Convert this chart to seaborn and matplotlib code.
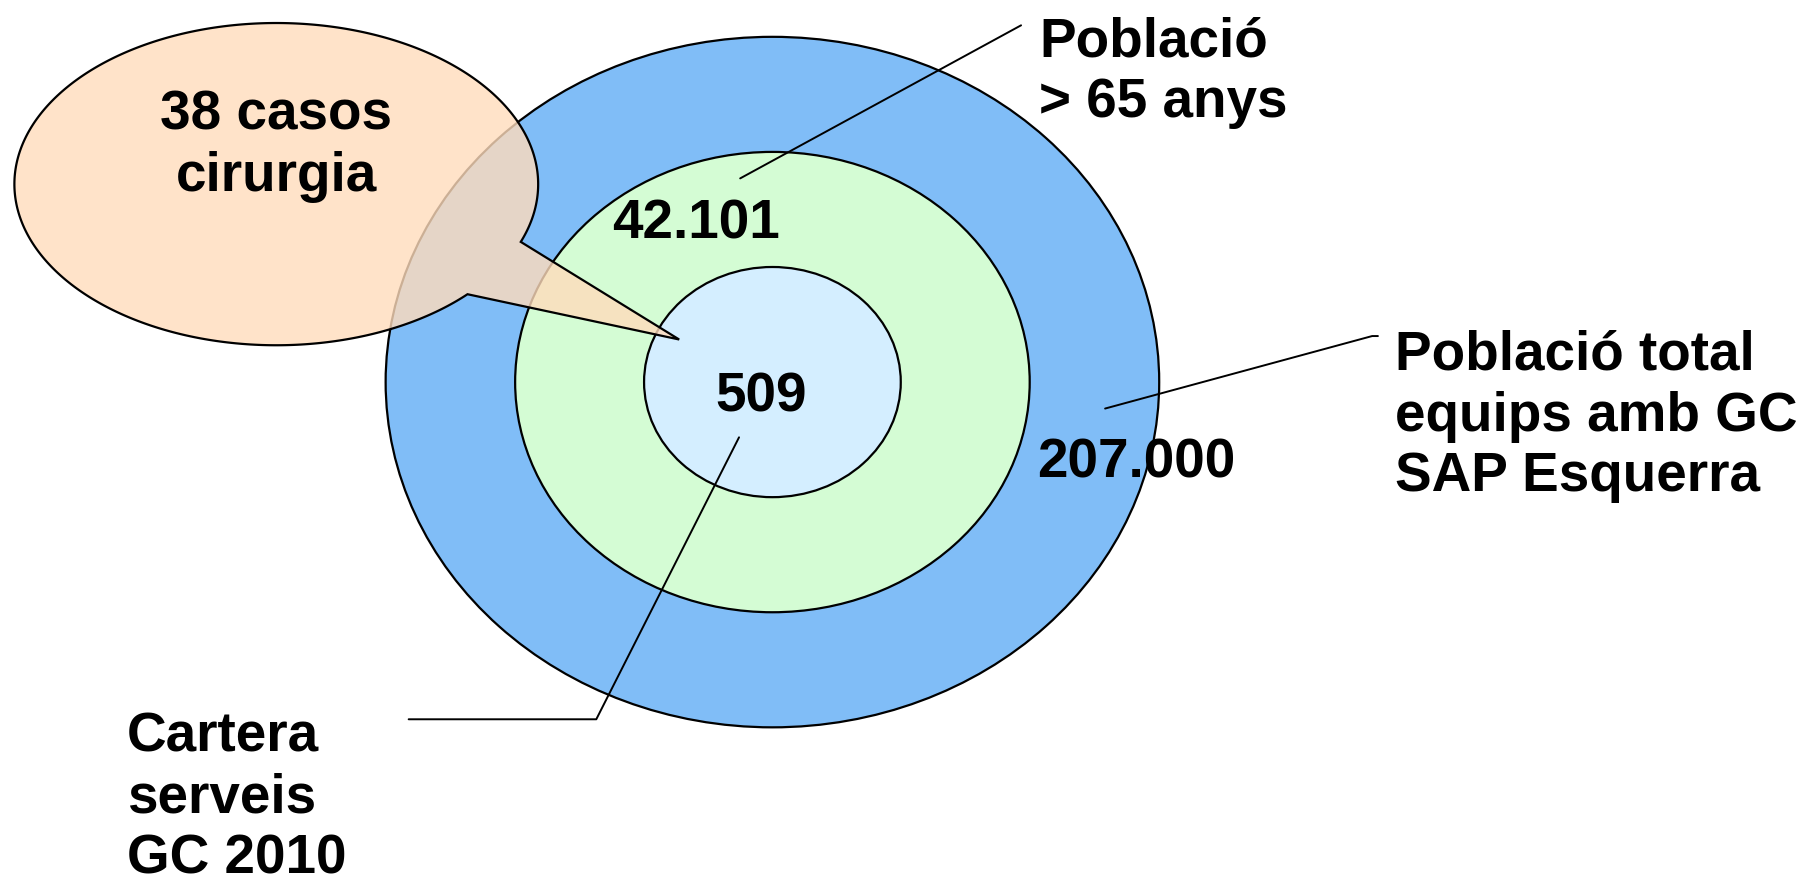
import numpy as np
import matplotlib.pyplot as plt
from matplotlib.patches import Ellipse, Polygon
import seaborn as sns

# dades: cercles concèntrics (de fora cap a dins)
ring_values = ["207.000", "42.101", "509"]
ring_names = ["Població total\nequips amb GC\nSAP Esquerra",
              "Població\n> 65 anys",
              "Cartera\nserveis\nGC 2010"]
ring_colors = ["#80bdf7", "#d4fcd4", "#d4eeff"]
bubble_text = "38 casos\ncirurgia"

# layout (coordenades en píxels de la imatge, y cap avall)
W, H = 1568, 769
center = (671, 332)
ring_w = [672, 447, 223]
ring_h = [600, 400, 200]
value_pos = [(987, 403), (605, 195), (661, 345)]
name_pos = [(1212, 362), (903, 63), (110, 694)]
leaders = [
    [(960, 355), (1192, 292), (1197, 292)],
    [(643, 155), (887, 22)],
    [(642, 380), (518, 625), (355, 625)],
]
bubble_c = (240, 160)
bubble_w, bubble_h = 455, 280
tail_tip = (590, 295)
tail_angles = (43.1, 21.0)

sns.set_theme(style="white")
plt.rcParams["font.family"] = ["Liberation Sans", "DejaVu Sans"]
plt.rcParams["text.color"] = "black"

fig = plt.figure(figsize=(18.05, 8.85), dpi=100)
ax = fig.add_axes([0, 0, 1, 1])
ax.set_xlim(0, W)
ax.set_ylim(H, 0)
ax.axis("off")

for w, h, col in zip(ring_w, ring_h, ring_colors):
    ax.add_patch(Ellipse(center, w, h, facecolor=col, edgecolor="black", lw=1.6, zorder=1))

# bombolla amb cua
t = np.deg2rad(np.linspace(tail_angles[0], 360 + tail_angles[1], 400))
bx = bubble_c[0] + bubble_w / 2 * np.cos(t)
by = bubble_c[1] + bubble_h / 2 * np.sin(t)
pts = np.column_stack([bx, by])
pts = np.vstack([pts, tail_tip])
ax.add_patch(Polygon(pts, closed=True, facecolor="#ffdcbc", edgecolor="none",
                     alpha=0.8, zorder=3))
ax.add_patch(Polygon(pts, closed=True, facecolor="none", edgecolor="black",
                     lw=1.6, zorder=3))

for line in leaders:
    xs, ys = zip(*line)
    ax.plot(xs, ys, color="black", lw=1.4, zorder=2)

fs = 39.5
for txt, (x, y) in zip(ring_values, value_pos):
    ax.text(x, y, txt, ha="center", va="center", fontsize=fs, fontweight="bold",
            color="black", zorder=5)
for txt, (x, y) in zip(ring_names, name_pos):
    ax.text(x, y, txt, ha="left", va="center", fontsize=fs, fontweight="bold",
            color="black", linespacing=1.22, zorder=5)
ax.text(bubble_c[0], 127, bubble_text, ha="center", va="center", fontsize=fs,
        fontweight="bold", color="black", linespacing=1.22, zorder=5)

fig.savefig("out.png", dpi=100)
